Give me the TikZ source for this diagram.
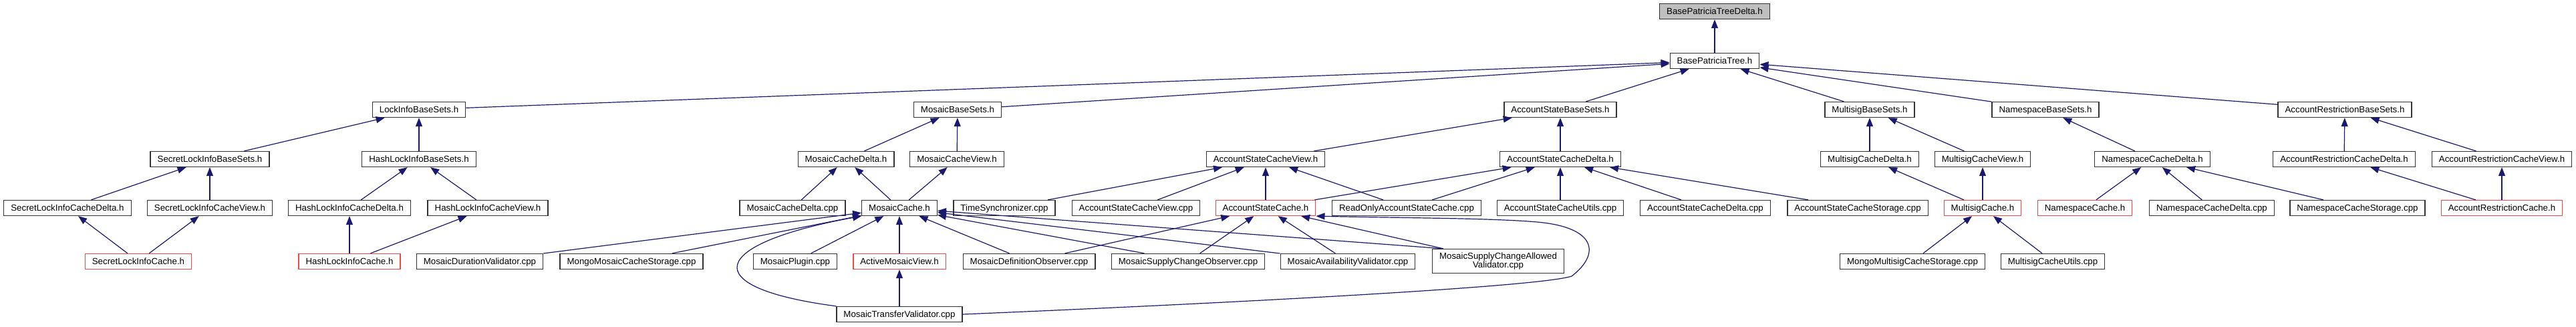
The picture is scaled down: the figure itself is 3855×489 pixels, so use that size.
\documentclass[tikz,border=0pt]{standalone}
\usepackage{fontspec}
\setmainfont{Liberation Sans}
\usetikzlibrary{arrows.meta}
\definecolor{edgeblue}{HTML}{191970}
\definecolor{truncred}{HTML}{F04848}

\begin{document}
\begin{tikzpicture}[x=1pt, y=-1pt,
    filebox/.style={draw=black!80, line width=1.3pt, fill=white, inner xsep=10.5pt, inner ysep=0pt,
      minimum height=23pt, text height=9.5pt, text depth=0pt, font=\fontsize{13.3}{13.3}\selectfont},
    redbox/.style={filebox, draw=truncred},
    rootbox/.style={filebox, fill=black!25},
    dep/.style={draw=edgeblue, line width=1.2pt, -{Triangle[length=13pt, width=10pt]}}]
        \useasboundingbox (0,0) rectangle (3855,489);

        \node[rootbox] (bptd) at (2566,17) {BasePatriciaTreeDelta.h};
        \node[filebox] (bpt) at (2566,91) {BasePatriciaTree.h};

        \foreach \n/\x/\txt in {libs/627/LockInfoBaseSets.h, mbs/1433/MosaicBaseSets.h,
            asbs/2335/AccountStateBaseSets.h, msbs/2798/MultisigBaseSets.h,
            nsbs/3061/NamespaceBaseSets.h, arbs/3509/AccountRestrictionBaseSets.h} {
          \node[filebox] (\n) at (\x,164) {\txt};
        }

        \foreach \n/\x/\txt in {slibs/314/SecretLockInfoBaseSets.h, hlibs/627/HashLockInfoBaseSets.h,
            mcd/1266/MosaicCacheDelta.h, mcv/1432/MosaicCacheView.h,
            ascv/1894/AccountStateCacheView.h, ascd/2335/AccountStateCacheDelta.h,
            mscd/2798/MultisigCacheDelta.h, mscv/2967/MultisigCacheView.h,
            nscd/3221/NamespaceCacheDelta.h, arcd/3508/AccountRestrictionCacheDelta.h,
            arcv/3744/AccountRestrictionCacheView.h} {
          \node[filebox] (\n) at (\x,238) {\txt};
        }

        \foreach \n/\x/\s/\txt in {slicd/101/filebox/SecretLockInfoCacheDelta.h,
            slicv/314/filebox/SecretLockInfoCacheView.h, hlicd/523/filebox/HashLockInfoCacheDelta.h,
            hlicv/730/filebox/HashLockInfoCacheView.h, mcdcpp/1186/filebox/MosaicCacheDelta.cpp,
            mc/1346/filebox/MosaicCache.h, ts/1503/filebox/TimeSynchronizer.cpp,
            ascvcpp/1700/filebox/AccountStateCacheView.cpp, asc/1894/redbox/AccountStateCache.h,
            roasc/2105/filebox/ReadOnlyAccountStateCache.cpp, ascu/2335/filebox/AccountStateCacheUtils.cpp,
            ascdcpp/2552/filebox/AccountStateCacheDelta.cpp, ascs/2780/filebox/AccountStateCacheStorage.cpp,
            msc/2967/redbox/MultisigCache.h, nsc/3120/redbox/NamespaceCache.h,
            nscdcpp/3310/filebox/NamespaceCacheDelta.cpp, nscs/3528/filebox/NamespaceCacheStorage.cpp,
            arc/3744/redbox/AccountRestrictionCache.h} {
          \node[\s] (\n) at (\x,311) {\txt};
        }

        \foreach \n/\x/\s/\txt in {slic/207/redbox/SecretLockInfoCache.h,
            hlic/523/redbox/HashLockInfoCache.h, mdv/718/filebox/MosaicDurationValidator.cpp,
            mmcs/945/filebox/MongoMosaicCacheStorage.cpp, mp/1190/filebox/MosaicPlugin.cpp,
            amv/1346/redbox/ActiveMosaicView.h, mdo/1540/filebox/MosaicDefinitionObserver.cpp,
            msco/1778/filebox/MosaicSupplyChangeObserver.cpp, mav/2017/filebox/MosaicAvailabilityValidator.cpp,
            mmscs/2862/filebox/MongoMultisigCacheStorage.cpp, mscu/3072/filebox/MultisigCacheUtils.cpp} {
          \node[\s] (\n) at (\x,391) {\txt};
        }
        \node[filebox, align=center, text height={}, text depth={}, minimum height=36pt]
          (mscav) at (2242,390.5) {MosaicSupplyChangeAllowed\\Validator.cpp};

        \node[filebox] (mtv) at (1346,470) {MosaicTransferValidator.cpp};

        % include edges, child -> parent
        \foreach \a/\b in {bpt/bptd, libs/bpt, mbs/bpt, asbs/bpt, msbs/bpt, nsbs/bpt, arbs/bpt,
            slibs/libs, hlibs/libs, slicd/slibs, slicv/slibs, slic/slicd, slic/slicv,
            hlicd/hlibs, hlicv/hlibs, hlic/hlicd, hlic/hlicv,
            mcd/mbs, mcv/mbs, mcdcpp/mcd, mc/mcd, mc/mcv,
            mdv/mc, mmcs/mc, mp/mc, amv/mc, mdo/mc, msco/mc, mav/mc, mtv/amv,
            ascv/asbs, ascd/asbs, ts/ascv, ascvcpp/ascv, asc/ascv, roasc/ascv,
            asc/ascd, roasc/ascd, ascu/ascd, ascdcpp/ascd, ascs/ascd,
            mdo/asc, msco/asc, mav/asc,
            mscd/msbs, mscv/msbs, msc/mscd, msc/mscv, mmscs/msc, mscu/msc,
            nscd/nsbs, nsc/nscd, nscdcpp/nscd, nscs/nscd,
            arcd/arbs, arcv/arbs, arc/arcd, arc/arcv} {
          \draw[dep] (\a) -- (\b);
        }
        \draw[dep] ([xshift=17pt]mscav.north west) -- (mc);
        \draw[dep] ([xshift=17pt]mscav.north west) -- (asc);

        % the two long ones round the sides
        \draw[dep] (mtv.north west) .. controls (1040,430) and (1060,365) .. (mc.south west);
        \draw[dep] (mtv.east) .. controls (1800,455) and (2300,430) .. (2352,413)
          .. controls (2395,380) and (2390,340) .. (2300,332)
          .. controls (2230,326) and (2100,326) .. (asc.south east);
\end{tikzpicture}
\end{document}
